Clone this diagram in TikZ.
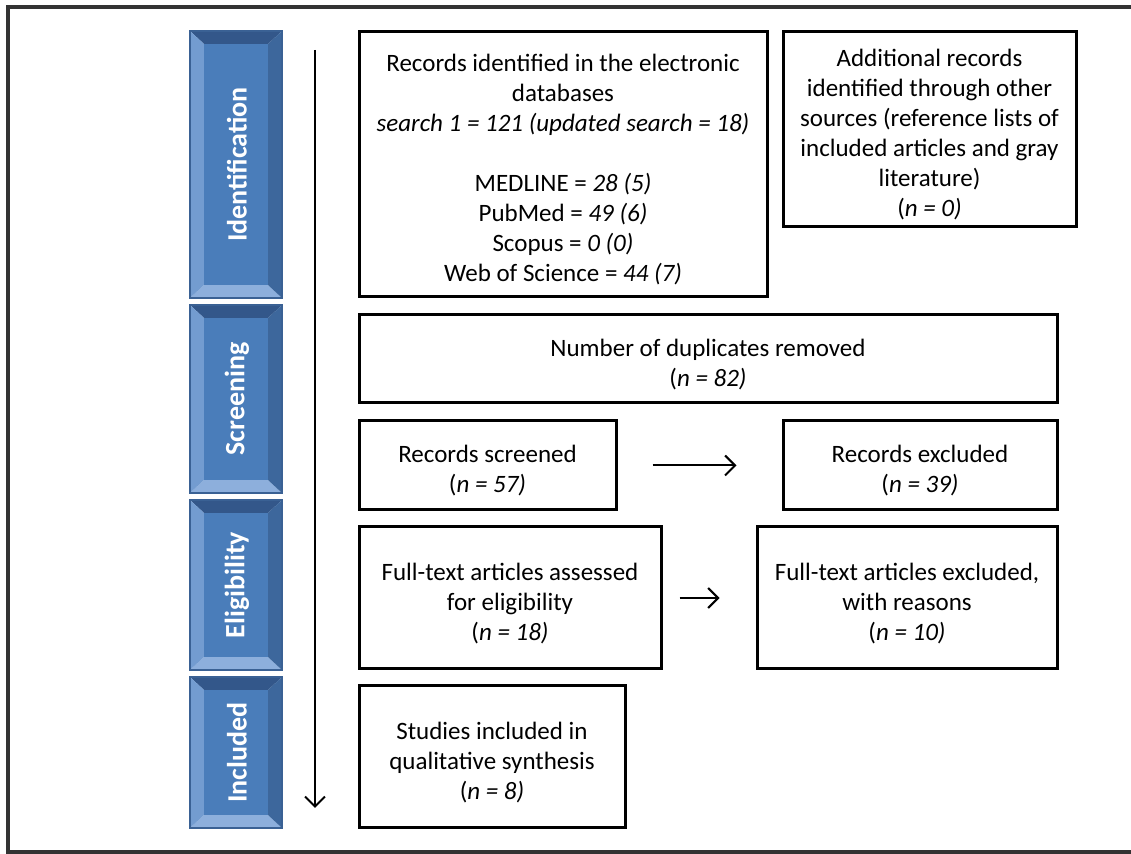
\documentclass[tikz,border=0pt]{standalone}
\usepackage{fontspec}
\setmainfont{Carlito}
\usepackage{xcolor}
\usepackage{tikz}
\usetikzlibrary{arrows.meta}

\definecolor{framegray}{HTML}{333333}
\definecolor{barface}{HTML}{4A7DBA}
\definecolor{bevtop}{HTML}{33578A}
\definecolor{bevright}{HTML}{3D679C}
\definecolor{bevleft}{HTML}{739CD0}
\definecolor{bevbot}{HTML}{8DAFDC}
\definecolor{baredge}{HTML}{3A6194}

\newcommand{\topstrut}{\rule{0pt}{14pt}}

\tikzset{
	box/.style={draw, line width=1.5pt, align=center, inner sep=0pt,
		font=\fontsize{12.5}{15}\selectfont},
	phase/.style={rotate=90, text=white, font=\fontsize{14}{16}\selectfont\bfseries},
	flow/.style={line width=1pt, -{Straight Barb[length=5pt,width=10pt]}}
}

% phase bar: name, top, bottom, label
\newcommand{\phasebar}[4]{%
	\fill[bevtop] (190,#2) -- (282,#2) -- (268,#2+13) -- (204,#2+13) -- cycle;
	\fill[bevbot] (190,#3) -- (282,#3) -- (268,#3-13) -- (204,#3-13) -- cycle;
	\fill[bevleft] (190,#2) -- (204,#2+13) -- (204,#3-13) -- (190,#3) -- cycle;
	\fill[bevright] (282,#2) -- (268,#2+13) -- (268,#3-13) -- (282,#3) -- cycle;
	\fill[barface] (204,#2+13) rectangle (268,#3-13);
	\draw[baredge, line width=0.6pt] (190,#2) rectangle (282,#3);
	\node[phase] (#1) at (237,{(#2+#3)/2}) {#4};
}

\begin{document}
\begin{tikzpicture}[x=0.5pt, y=-0.5pt]
	\useasboundingbox (0,0) rectangle (1131,854);
	\fill[white] (0,0) rectangle (1131,854);
	\draw[framegray, line width=2pt] (1140,7.5) -- (7.5,7.5) -- (7.5,852.5) -- (1140,852.5);

	% phases
	\phasebar{ident}{31}{298}{Identification}
	\phasebar{screen}{305}{493}{Screening}
	\phasebar{elig}{500}{670}{Eligibility}
	\phasebar{incl}{677}{828}{Included}

	% time line
	\coordinate (ttop) at (315,50);
	\coordinate (tbot) at (315,808);
	\draw[flow] (ttop) -- (tbot);

	% boxes
	\node[box, minimum width=204pt, minimum height=132.5pt] (records) at (563,164.5)
		{\topstrut Records identified in the electronic\\ databases\\
		 \textit{search 1 = 121 (updated search = 18)}\\[15pt]
		 MEDLINE = \textit{28 (5)}\\ PubMed = \textit{49 (6)}\\
		 Scopus = \textit{0 (0)}\\ Web of Science = \textit{44 (7)}};
	\node[box, minimum width=146.5pt, minimum height=97.5pt] (other) at (929.5,129.5)
		{\topstrut Additional records\\ identified through other\\ sources (reference lists of\\
		 included articles and gray\\ literature)\\ (\textit{n = 0)}};
	\node[box, minimum width=349pt, minimum height=44pt] (dupl) at (708,359)
		{\topstrut Number of duplicates removed\\ (\textit{n = 82)}};
	\node[box, minimum width=128.5pt, minimum height=44.5pt] (screened) at (487.5,465.5)
		{\topstrut Records screened\\ (\textit{n = 57)}};
	\node[box, minimum width=137pt, minimum height=44.5pt] (excl) at (920,465.5)
		{\topstrut Records excluded\\ (\textit{n = 39)}};
	\node[box, minimum width=151pt, minimum height=71pt] (fulltext) at (510,598)
		{\topstrut Full-text articles assessed\\ for eligibility\\ (\textit{n = 18)}};
	\node[box, minimum width=150pt, minimum height=71pt] (ftexcl) at (907,598)
		{\topstrut Full-text articles excluded,\\ with reasons\\ (\textit{n = 10)}};
	\node[box, minimum width=133pt, minimum height=71pt] (studies) at (492,757)
		{\topstrut Studies included in\\ qualitative synthesis\\ (\textit{n = 8)}};

	% arrows
	\draw[flow, shorten <=17.5pt, shorten >=22.5pt] (screened) -- (excl);
	\draw[flow, shorten <=8.5pt, shorten >=18pt] (fulltext) -- (ftexcl);
\end{tikzpicture}
\end{document}
